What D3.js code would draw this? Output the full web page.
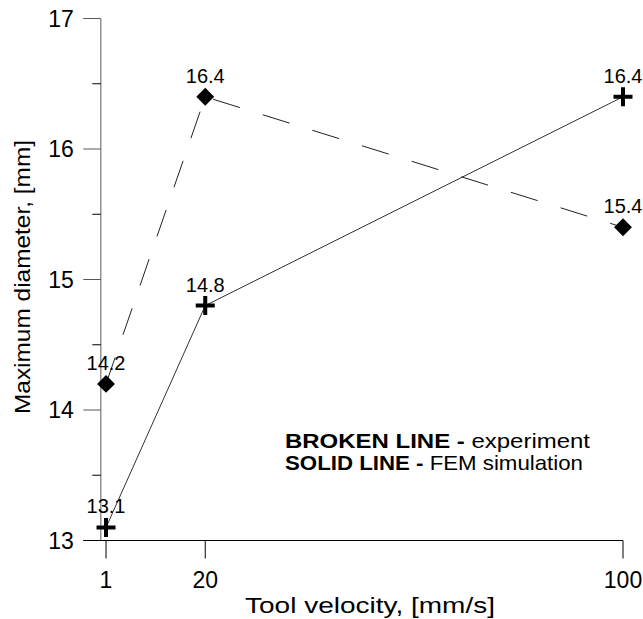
<!DOCTYPE html>
<html>
<head>
<meta charset="utf-8">
<script src="https://cdn.jsdelivr.net/npm/d3@7"></script>
<style>
  body { margin: 0; background: #fff; }
  svg text { font-family: "Liberation Sans", Arial, sans-serif; fill: #000; }
</style>
</head>
<body>
<div id="chart"></div>
<script>
// data
var velocities = [1, 20, 100];
var experiment = [14.2, 16.4, 15.4];   // broken line, diamonds
var simulation = [13.1, 14.8, 16.4];   // solid line, crosses
var xTicks = [1, 20, 100];
var yTicks = [13, 14, 15, 16, 17];
var yMinorTicks = [13.5, 14.5, 15.5, 16.5];
var legendLines = [
  { bold: "BROKEN LINE - ", normal: "experiment", len: 305 },
  { bold: "SOLID LINE - ", normal: "FEM simulation", len: 298 }
];

var width = 643, height = 619;

var svg = d3.select("#chart").append("svg")
  .attr("width", width)
  .attr("height", height);

var x = d3.scaleLinear().domain([0, 100]).range([100.8, 623]);
var y = d3.scaleLinear().domain([13, 17]).range([540.5, 18.5]);

// y axis: gray line, major ticks to the left, minor ticks shorter
var yAxisG = svg.append("g").attr("transform", "translate(" + x(0) + ",0)");
yAxisG.append("line")
  .attr("x1", 0).attr("x2", 0)
  .attr("y1", y(17)).attr("y2", y(13))
  .attr("stroke", "#808080").attr("stroke-width", 1.3);
yAxisG.selectAll(".major").data(yTicks).enter().append("line")
  .attr("x1", -17.5).attr("x2", 0)
  .attr("y1", function(d) { return y(d); })
  .attr("y2", function(d) { return y(d); })
  .attr("stroke", "#555").attr("stroke-width", 1);
yAxisG.selectAll(".minor").data(yMinorTicks).enter().append("line")
  .attr("x1", -8.5).attr("x2", 0)
  .attr("y1", function(d) { return y(d); })
  .attr("y2", function(d) { return y(d); })
  .attr("stroke", "#000").attr("stroke-width", 1);
yAxisG.selectAll("text").data(yTicks).enter().append("text")
  .attr("x", -27)
  .attr("y", function(d) { return y(d); })
  .attr("dy", "0.36em")
  .attr("text-anchor", "end")
  .attr("font-size", 23)
  .text(function(d) { return d; });

// x axis: black baseline with ticks downwards
var xAxisG = svg.append("g");
xAxisG.append("line")
  .attr("x1", x(0) - 17.5).attr("x2", x(100))
  .attr("y1", y(13)).attr("y2", y(13))
  .attr("stroke", "#000").attr("stroke-width", 1);
xAxisG.selectAll(".tick").data(xTicks).enter().append("line")
  .attr("x1", function(d) { return x(d); })
  .attr("x2", function(d) { return x(d); })
  .attr("y1", y(13)).attr("y2", y(13) + 18)
  .attr("stroke", "#000").attr("stroke-width", 1);
xAxisG.selectAll("text").data(xTicks).enter().append("text")
  .attr("x", function(d) { return x(d); })
  .attr("y", 588)
  .attr("text-anchor", "middle")
  .attr("font-size", 23)
  .text(function(d) { return d; });

// axis titles (the original font runs wider than Liberation Sans)
svg.append("text")
  .attr("x", 370).attr("y", 613)
  .attr("text-anchor", "middle")
  .attr("font-size", 22)
  .attr("textLength", 250)
  .attr("lengthAdjust", "spacingAndGlyphs")
  .text("Tool velocity, [mm/s]");
svg.append("text")
  .attr("transform", "translate(30,277) rotate(-90)")
  .attr("text-anchor", "middle")
  .attr("font-size", 22)
  .attr("textLength", 274)
  .attr("lengthAdjust", "spacingAndGlyphs")
  .text("Maximum diameter, [mm]");

var line = d3.line()
  .x(function(d) { return x(d[0]); })
  .y(function(d) { return y(d[1]); });

var expPts = velocities.map(function(v, i) { return [v, experiment[i]]; });
var simPts = velocities.map(function(v, i) { return [v, simulation[i]]; });

svg.append("path")
  .attr("d", line(expPts))
  .attr("fill", "none")
  .attr("stroke", "#222")
  .attr("stroke-width", 1)
  .attr("stroke-dasharray", "28,24");

svg.append("path")
  .attr("d", line(simPts))
  .attr("fill", "none")
  .attr("stroke", "#333")
  .attr("stroke-width", 1);

// diamond markers
var diamond = d3.symbol().type(d3.symbolSquare).size(160);
svg.selectAll(".diamond").data(expPts).enter().append("path")
  .attr("d", diamond)
  .attr("transform", function(d) {
    return "translate(" + x(d[0]) + "," + y(d[1]) + ") rotate(45)";
  })
  .attr("fill", "#000");

// cross markers
svg.selectAll(".cross").data(simPts).enter().append("path")
  .attr("d", "M-9.5,0H9.5M0,-9.5V9.5")
  .attr("transform", function(d) {
    return "translate(" + x(d[0]) + "," + y(d[1]) + ")";
  })
  .attr("stroke", "#000")
  .attr("stroke-width", 4);

// value labels
var allPts = expPts.concat(simPts);
svg.selectAll(".vlabel").data(allPts).enter().append("text")
  .attr("x", function(d) { return x(d[0]); })
  .attr("y", function(d) { return y(d[1]) - 14; })
  .attr("text-anchor", "middle")
  .attr("font-size", 20)
  .text(function(d) { return d[1].toFixed(1); });

// legend text
var leg = svg.selectAll(".legend").data(legendLines).enter().append("text")
  .attr("x", 285)
  .attr("y", function(d, i) { return 448 + i * 22; })
  .attr("font-size", 21)
  .attr("textLength", function(d) { return d.len; })
  .attr("lengthAdjust", "spacingAndGlyphs");
leg.append("tspan").attr("font-weight", "bold").text(function(d) { return d.bold; });
leg.append("tspan").text(function(d) { return d.normal; });
</script>
</body>
</html>
